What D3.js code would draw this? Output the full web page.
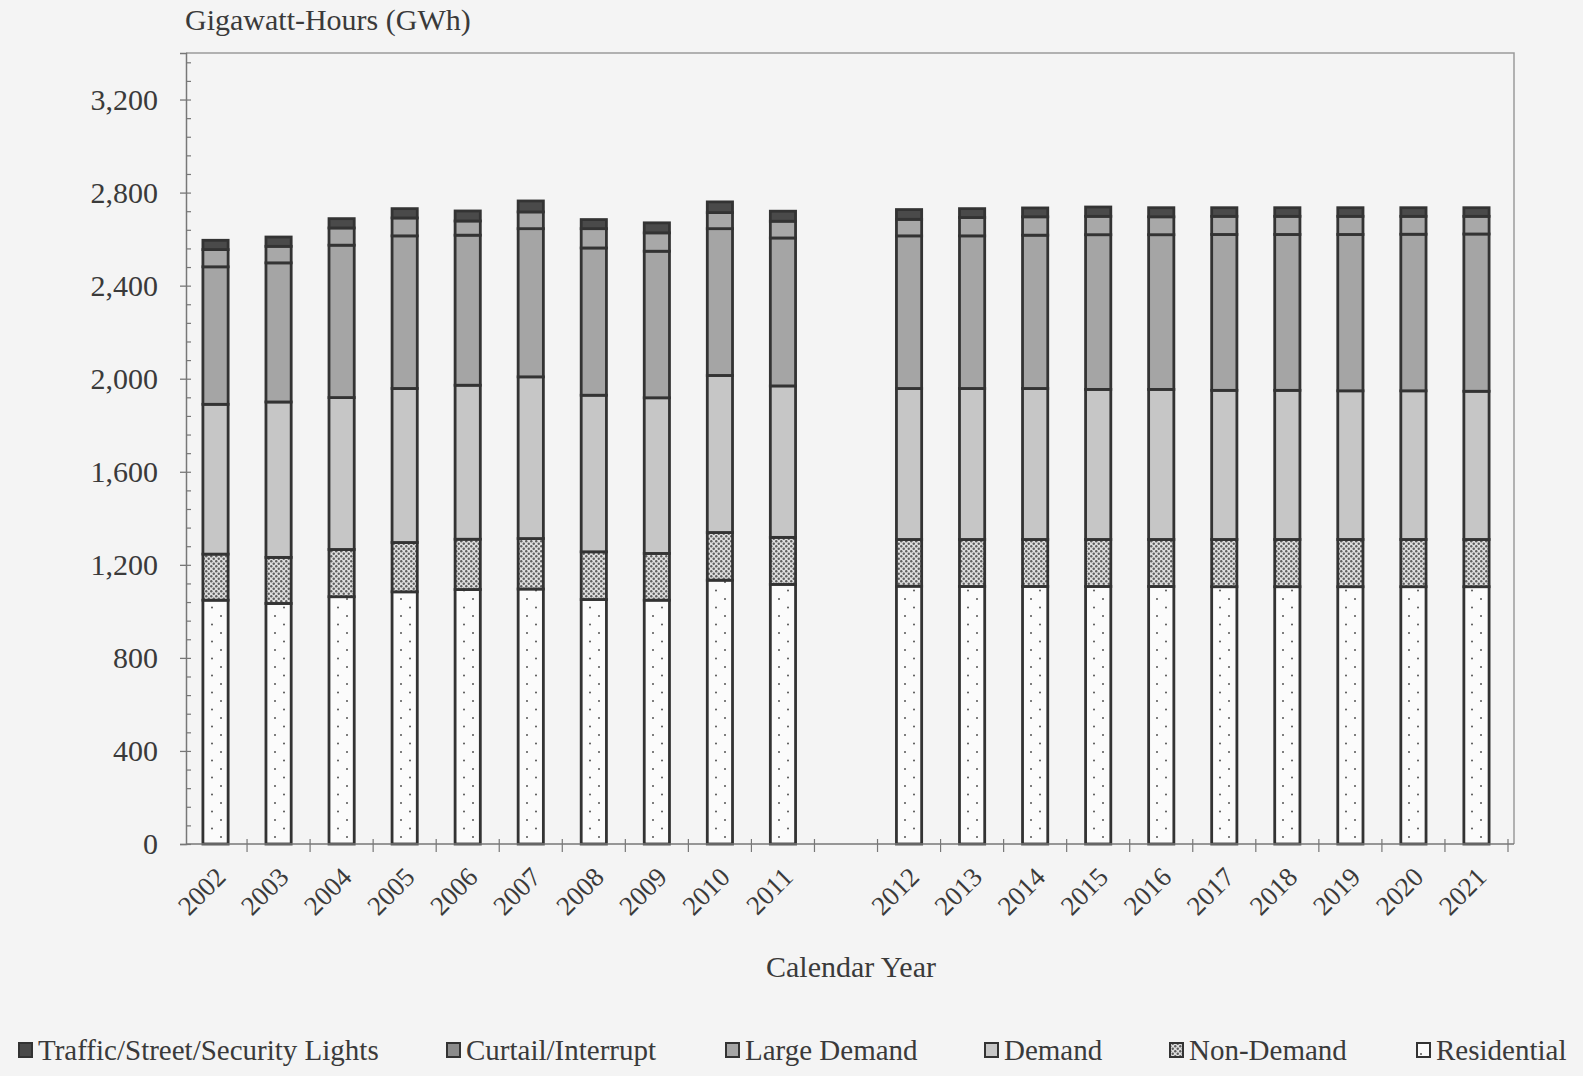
<!DOCTYPE html>
<html>
<head>
<meta charset="utf-8">
<script src="https://cdn.jsdelivr.net/npm/d3@7"></script>
<style>
    html, body { margin: 0; padding: 0; background: #f4f4f4; }
    svg { display: block; font-family: "Liberation Serif", "Times New Roman", serif; }
</style>
</head>
<body>
<svg id="chart" width="1583" height="1076"></svg>
<script>
// categories (a blank slot separates history from forecast)
var years = ["2002", "2003", "2004", "2005", "2006", "2007", "2008", "2009", "2010", "2011",
             "2012", "2013", "2014", "2015", "2016", "2017", "2018", "2019", "2020", "2021"];
var slots = years.slice(0, 10).concat(["gap"], years.slice(10));

// series values, GWh
var residential = [1048, 1034, 1063, 1084, 1094, 1096, 1051, 1048, 1134, 1116,
                   1108, 1107, 1107, 1107, 1107, 1106, 1106, 1106, 1106, 1106];
var nonDemand   = [198, 198, 203, 212, 216, 217, 205, 201, 205, 202,
                   201, 202, 202, 202, 202, 203, 203, 203, 203, 203];
var demand      = [644, 668, 653, 662, 662, 695, 673, 669, 675, 651,
                   649, 649, 649, 645, 645, 641, 641, 639, 639, 637];
var largeDemand = [591, 598, 655, 656, 645, 637, 633, 630, 631, 636,
                   656, 656, 659, 665, 665, 670, 670, 672, 673, 676];
var curtail     = [74, 71, 74, 77, 61, 72, 83, 79, 69, 72,
                   71, 79, 79, 79, 77, 78, 78, 78, 77, 76];
var lights      = [40, 40, 40, 40, 43, 47, 39, 43, 46, 43,
                   42, 38, 38, 40, 39, 37, 37, 37, 37, 37];

// stack order bottom -> top
var seriesKeys = ["Residential", "Non-Demand", "Demand", "Large Demand", "Curtail/Interrupt", "Traffic/Street/Security Lights"];
// legend order left -> right
var legendKeys = ["Traffic/Street/Security Lights", "Curtail/Interrupt", "Large Demand", "Demand", "Non-Demand", "Residential"];
var yTicks = [0, 400, 800, 1200, 1600, 2000, 2400, 2800, 3200];

window.onload = function()
{
    main();
};

function main()
{
    var svg = d3.select("#chart"),
        margin = { left: 186, right: 1514, top: 53, bottom: 844 },
        ink = "#333",
        font = "'Liberation Serif', 'Times New Roman', serif",
        rows = years.map(function(yr, i)
        {
            return {
                year: yr,
                "Residential": residential[i],
                "Non-Demand": nonDemand[i],
                "Demand": demand[i],
                "Large Demand": largeDemand[i],
                "Curtail/Interrupt": curtail[i],
                "Traffic/Street/Security Lights": lights[i]
            };
        }),
        stacked = d3.stack().keys(seriesKeys)(rows),
        x = d3.scaleBand()
            .domain(slots)
            .range([margin.left - 2, 1508])
            .paddingInner(0.6)
            .paddingOuter(0.3),
        y = d3.scaleLinear()
            .domain([0, 3400])
            .range([margin.bottom, margin.top]);

    _patterns(svg);

    var fills = {
        "Residential": "url(#resPat)",
        "Non-Demand": "url(#ndPat)",
        "Demand": "#c6c6c6",
        "Large Demand": "#a5a5a5",
        "Curtail/Interrupt": "#a8a8a8",
        "Traffic/Street/Security Lights": "#4a4a4a"
    };

    // plot frame (top & right)
    svg.append("path")
        .attr("d", "M" + margin.left + "," + margin.top + "H" + margin.right + "V" + margin.bottom)
        .attr("fill", "none")
        .attr("stroke", "#9a9a9a")
        .attr("stroke-width", 1.5);

    // bars
    svg.append("g")
        .selectAll("g")
        .data(stacked)
        .enter().append("g")
        .attr("fill", function(d) { return fills[d.key]; })
        .selectAll("rect")
        .data(function(d) { return d; })
        .enter().append("rect")
        .attr("x", function(d) { return x(d.data.year); })
        .attr("width", x.bandwidth())
        .attr("y", function(d) { return y(d[1]); })
        .attr("height", function(d) { return y(d[0]) - y(d[1]); })
        .attr("stroke", ink)
        .attr("stroke-width", 2.8);

    // y axis
    var yAxis = svg.append("g")
        .attr("transform", "translate(" + margin.left + ",0)")
        .call(d3.axisLeft(y).tickValues(yTicks).tickFormat(d3.format(",")).tickSize(6).tickPadding(22));
    yAxis.attr("font-family", font).attr("font-size", 30);
    yAxis.select(".domain").attr("stroke", "#777").attr("stroke-width", 1.5);
    yAxis.selectAll(".tick line").attr("stroke", "#777").attr("stroke-width", 1.3);
    yAxis.selectAll("text").attr("fill", "#3a3a3a");

    // minor ticks inside
    svg.append("g")
        .attr("transform", "translate(" + margin.left + ",0)")
        .call(d3.axisRight(y).tickValues(d3.range(0, 3401, 80)).tickFormat("").tickSize(5))
        .call(function(g)
        {
            g.select(".domain").remove();
            g.selectAll("line").attr("stroke", "#777").attr("stroke-width", 1.2);
        });

    // x axis: line, ticks between categories, rotated labels
    var step = x.step(),
        edges = slots.map(function(s) { return x(s) - (step - x.bandwidth()) / 2; });
    edges.push(edges[edges.length - 1] + step);

    svg.append("line")
        .attr("x1", margin.left).attr("x2", margin.right)
        .attr("y1", y(0)).attr("y2", y(0))
        .attr("stroke", "#777").attr("stroke-width", 1.5);

    svg.append("g")
        .selectAll("line")
        .data(edges.slice(1))
        .enter().append("line")
        .attr("x1", function(d) { return d; })
        .attr("x2", function(d) { return d; })
        .attr("y1", y(0) - 5)
        .attr("y2", y(0) + 8)
        .attr("stroke", "#777")
        .attr("stroke-width", 1.2);

    var xAxis = svg.append("g")
        .attr("transform", "translate(0," + y(0) + ")")
        .call(d3.axisBottom(x).tickValues(years).tickSize(0));
    xAxis.attr("font-family", font).attr("font-size", 27);
    xAxis.select(".domain").remove();
    xAxis.selectAll("text")
        .attr("x", 0).attr("y", 0).attr("dy", "0.35em")
        .attr("transform", "translate(5,28) rotate(-45)")
        .style("text-anchor", "end")
        .attr("fill", "#3a3a3a");

    // titles
    svg.append("text")
        .attr("x", 185).attr("y", 30)
        .attr("fill", "#3a3a3a")
        .style("font-size", "30px")
        .text("Gigawatt-Hours (GWh)");

    svg.append("text")
        .attr("x", 851).attr("y", 977)
        .attr("text-anchor", "middle")
        .attr("fill", "#3a3a3a")
        .style("font-size", "30px")
        .text("Calendar Year");

    // legend
    var legendX = [18, 446, 725, 984, 1169, 1416],
        legend = svg.append("g")
            .selectAll("g")
            .data(legendKeys)
            .enter().append("g")
            .attr("transform", function(d, i) { return "translate(" + legendX[i] + ",1050)"; });

    legend.append("rect")
        .attr("x", 1).attr("y", -7)
        .attr("width", 13).attr("height", 14)
        .attr("fill", function(d) { return d === "Curtail/Interrupt" ? "#8c8c8c" : fills[d]; })
        .attr("stroke", ink)
        .attr("stroke-width", 2);

    legend.append("text")
        .attr("x", 20).attr("y", 10)
        .attr("fill", "#3a3a3a")
        .style("font-size", "29px")
        .text(function(d) { return d; });
}

// fill patterns for the dotted series
function _patterns(svg)
{
    var defs = svg.append("defs");

    var res = defs.append("pattern")
        .attr("id", "resPat")
        .attr("patternUnits", "userSpaceOnUse")
        .attr("width", 18).attr("height", 17);
    res.append("rect").attr("width", 18).attr("height", 17).attr("fill", "#fbfbfb");
    res.append("circle").attr("cx", 5).attr("cy", 4).attr("r", 1).attr("fill", "#555");
    res.append("circle").attr("cx", 14).attr("cy", 12.5).attr("r", 1).attr("fill", "#555");

    var nd = defs.append("pattern")
        .attr("id", "ndPat")
        .attr("patternUnits", "userSpaceOnUse")
        .attr("width", 5).attr("height", 5);
    nd.append("rect").attr("width", 5).attr("height", 5).attr("fill", "#dedede");
    nd.append("circle").attr("cx", 1.25).attr("cy", 1.25).attr("r", 1.2).attr("fill", "#5e5e5e");
    nd.append("circle").attr("cx", 3.75).attr("cy", 3.75).attr("r", 1.2).attr("fill", "#5e5e5e");
}
</script>
</body>
</html>
